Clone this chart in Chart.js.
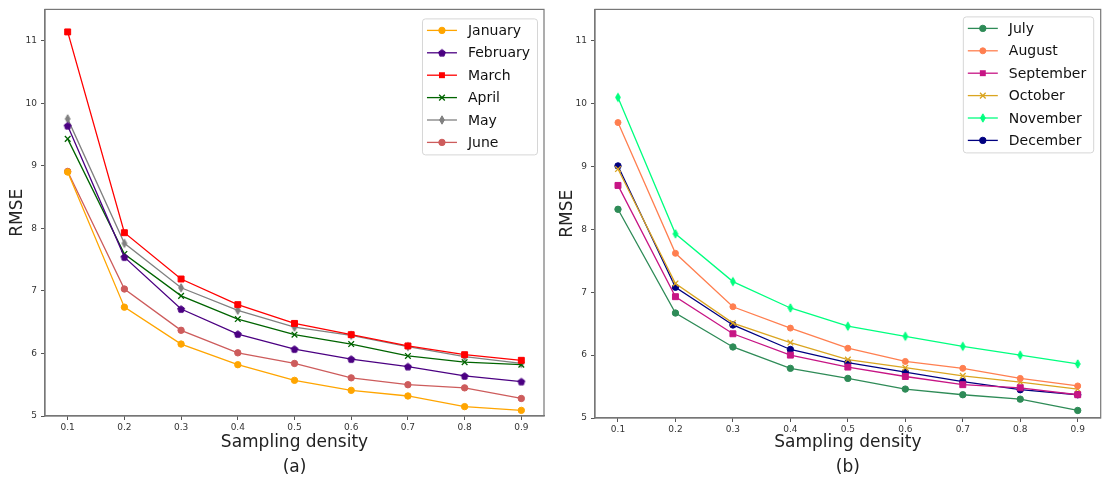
<!DOCTYPE html>
<html>
<head>
<meta charset="utf-8">
<script src="https://cdn.jsdelivr.net/npm/chart.js@4.4.0/dist/chart.umd.min.js"></script>
<style>
html, body { margin: 0; padding: 0; background: #fff; }
#wrap { position: relative; width: 1106px; height: 486px; overflow: hidden; }
canvas { position: absolute; top: 0; }
</style>
</head>
<body>
<div id="wrap">
  <canvas id="chartA" width="550" height="486" style="left:0px"></canvas>
  <canvas id="chartB" width="556" height="486" style="left:550px"></canvas>
</div>
<script>
// sampling densities on the x axis
var densities = [0.1, 0.2, 0.3, 0.4, 0.5, 0.6, 0.7, 0.8, 0.9];
var rmseTicks = [5, 6, 7, 8, 9, 10, 11];

// (a) January - June
var january  = [8.90, 6.74, 6.15, 5.82, 5.57, 5.41, 5.32, 5.15, 5.09];
var february = [9.64, 7.54, 6.71, 6.31, 6.07, 5.91, 5.79, 5.64, 5.55];
var march    = [11.14, 7.93, 7.19, 6.78, 6.48, 6.30, 6.12, 5.98, 5.89];
var april    = [9.43, 7.59, 6.92, 6.55, 6.30, 6.15, 5.96, 5.86, 5.82];
var may      = [9.75, 7.76, 7.05, 6.69, 6.42, 6.29, 6.11, 5.95, 5.84];
var june     = [8.91, 7.03, 6.37, 6.01, 5.84, 5.61, 5.50, 5.45, 5.28];

// (b) July - December
var july      = [8.32, 6.67, 6.13, 5.79, 5.63, 5.46, 5.37, 5.30, 5.12];
var august    = [9.70, 7.62, 6.77, 6.43, 6.11, 5.90, 5.79, 5.63, 5.51];
var september = [8.70, 6.93, 6.34, 6.00, 5.81, 5.66, 5.53, 5.48, 5.37];
var october   = [8.96, 7.14, 6.51, 6.20, 5.93, 5.80, 5.67, 5.57, 5.46];
var november  = [10.10, 7.93, 7.17, 6.75, 6.46, 6.30, 6.14, 6.00, 5.86];
var december  = [9.01, 7.08, 6.48, 6.09, 5.88, 5.73, 5.58, 5.45, 5.37];

var FONT = "'DejaVu Sans', sans-serif";

// little canvases for markers Chart.js does not have
function makeMarker(shape, color) {
  var c = document.createElement('canvas');
  c.width = 12; c.height = 12;
  var g = c.getContext('2d');
  g.fillStyle = color; g.strokeStyle = color; g.lineWidth = 1;
  g.beginPath();
  if (shape === 'pentagon') {
    for (var i = 0; i < 5; i++) {
      var a = -Math.PI / 2 + i * 2 * Math.PI / 5;
      var px = 6 + 3.6 * Math.cos(a), py = 6.3 + 3.6 * Math.sin(a);
      if (i) g.lineTo(px, py); else g.moveTo(px, py);
    }
  } else {
    g.moveTo(6, 1.8); g.lineTo(8.4, 6); g.lineTo(6, 10.2); g.lineTo(3.6, 6);
  }
  g.closePath(); g.fill(); g.stroke();
  return c;
}

function series(label, values, color, style, radius) {
  return {
    label: label,
    data: values.map(function (v, i) { return { x: densities[i], y: v }; }),
    borderColor: color,
    backgroundColor: color,
    pointBackgroundColor: color,
    pointBorderColor: color,
    pointStyle: style,
    pointRadius: radius,
    pointBorderWidth: style === 'crossRot' ? 1.3 : 1,
    borderWidth: 1.3,
    tension: 0,
    fill: false
  };
}

function drawMarker(ctx, ds, x, y) {
  var st = ds.pointStyle, r = ds.pointRadius;
  ctx.save();
  ctx.fillStyle = ds.pointBackgroundColor;
  ctx.strokeStyle = ds.pointBorderColor;
  ctx.lineWidth = ds.pointBorderWidth;
  if (typeof st !== 'string') {
    ctx.drawImage(st, x - st.width / 2, y - st.height / 2);
  } else if (st === 'rect') {
    var s = r * Math.SQRT1_2;
    ctx.fillRect(x - s, y - s, 2 * s, 2 * s);
  } else if (st === 'crossRot') {
    var o = r * Math.SQRT1_2;
    ctx.beginPath();
    ctx.moveTo(x - o, y - o); ctx.lineTo(x + o, y + o);
    ctx.moveTo(x - o, y + o); ctx.lineTo(x + o, y - o);
    ctx.stroke();
  } else {
    ctx.beginPath(); ctx.arc(x, y, r, 0, Math.PI * 2); ctx.fill(); ctx.stroke();
  }
  ctx.restore();
}

// frame, legend box and caption
var decorPlugin = {
  id: 'decor',
  afterDraw: function (chart, args, opts) {
    var ctx = chart.ctx, a = chart.chartArea;
    ctx.save();
    ctx.strokeStyle = '#777';
    ctx.lineWidth = 1.2;
    ctx.strokeRect(a.left, a.top, a.right - a.left, a.bottom - a.top);

    // legend
    ctx.font = '14px ' + FONT;
    var dss = chart.data.datasets, maxW = 0;
    dss.forEach(function (d) { maxW = Math.max(maxW, ctx.measureText(d.label).width); });
    var bw = 46 + maxW + 7, rowH = 22.4;
    var bh = 24 + rowH * (dss.length - 1);
    var bx = a.right - opts.right - bw, by = a.top + opts.top;
    ctx.fillStyle = 'rgba(255,255,255,0.8)';
    ctx.strokeStyle = '#d6d6d6';
    ctx.lineWidth = 1;
    ctx.beginPath();
    ctx.roundRect(bx + 0.5, by + 0.5, bw, bh, 3);
    ctx.fill(); ctx.stroke();
    dss.forEach(function (d, i) {
      var y = by + 12 + i * rowH;
      ctx.strokeStyle = d.borderColor;
      ctx.lineWidth = d.borderWidth;
      ctx.beginPath(); ctx.moveTo(bx + 5, y); ctx.lineTo(bx + 35, y); ctx.stroke();
      drawMarker(ctx, d, bx + 20, y);
      ctx.fillStyle = '#111';
      ctx.textBaseline = 'middle';
      ctx.textAlign = 'left';
      ctx.font = '14px ' + FONT;
      ctx.fillText(d.label, bx + 46, y + 1);
    });

    // caption
    ctx.fillStyle = '#222';
    ctx.font = '17px ' + FONT;
    ctx.textAlign = 'center';
    ctx.textBaseline = 'middle';
    ctx.fillText(opts.caption, (a.left + a.right) / 2, 468);
    ctx.restore();
  }
};

function makeOptions(xAxisHeight, pad, legendPos, caption) {
  return {
    responsive: false,
    animation: false,
    events: [],
    layout: { padding: pad },
    plugins: {
      legend: { display: false },
      tooltip: { enabled: false },
      decor: { right: legendPos.right, top: legendPos.top, caption: caption }
    },
    scales: {
      x: {
        type: 'linear',
        min: 0.06,
        max: 0.94,
        afterBuildTicks: function (s) { s.ticks = densities.map(function (v) { return { value: v }; }); },
        afterFit: function (s) { s.height = xAxisHeight; },
        ticks: {
          callback: function (v) { return v.toFixed(1); },
          font: { size: 9, family: FONT },
          color: '#333',
          padding: 2,
          autoSkip: false,
          maxRotation: 0
        },
        grid: { drawOnChartArea: false, drawTicks: true, tickLength: 4, color: '#555' },
        border: { display: true, color: '#777', width: 1.2 },
        title: {
          display: true,
          text: 'Sampling density',
          font: { size: 17, family: FONT },
          color: '#222',
          padding: { top: 0, bottom: 33 }
        }
      },
      y: {
        min: 5,
        max: 11.5,
        afterBuildTicks: function (s) { s.ticks = rmseTicks.map(function (v) { return { value: v }; }); },
        afterFit: function (s) { s.width = 45; },
        ticks: {
          font: { size: 9, family: FONT },
          color: '#333',
          padding: 4
        },
        grid: { drawOnChartArea: false, drawTicks: true, tickLength: 4, color: '#555' },
        border: { display: true, color: '#777', width: 1.2 },
        title: {
          display: true,
          text: 'RMSE',
          font: { size: 17, family: FONT },
          color: '#222',
          padding: { top: 7, bottom: 0 }
        }
      }
    }
  };
}

var pentagon = makeMarker('pentagon', '#4B0082');
var diamondGray = makeMarker('diamond', '#808080');
var diamondGreen = makeMarker('diamond', '#00FF7F');

new Chart(document.getElementById('chartA'), {
  type: 'line',
  data: {
    datasets: [
      series('January', january, '#FFA500', 'circle', 3.2),
      series('February', february, '#4B0082', pentagon, 3.5),
      series('March', march, '#FF0000', 'rect', 4.2),
      series('April', april, '#006400', 'crossRot', 4),
      series('May', may, '#808080', diamondGray, 3.5),
      series('June', june, '#CD5C5C', 'circle', 3.2)
    ]
  },
  options: makeOptions(70, { left: 0, top: 3, right: 6, bottom: 0 }, { right: 7, top: 9 }, '(a)'),
  plugins: [decorPlugin]
});

new Chart(document.getElementById('chartB'), {
  type: 'line',
  data: {
    datasets: [
      series('July', july, '#2E8B57', 'circle', 3.2),
      series('August', august, '#FF7F50', 'circle', 3),
      series('September', september, '#C71585', 'rect', 4.2),
      series('October', october, '#DAA520', 'crossRot', 4),
      series('November', november, '#00FF7F', diamondGreen, 3.5),
      series('December', december, '#000080', 'circle', 3.2)
    ]
  },
  options: makeOptions(68, { left: 0, top: 0, right: 4, bottom: 0 }, { right: 7.5, top: 7 }, '(b)'),
  plugins: [decorPlugin]
});
</script>
</body>
</html>
